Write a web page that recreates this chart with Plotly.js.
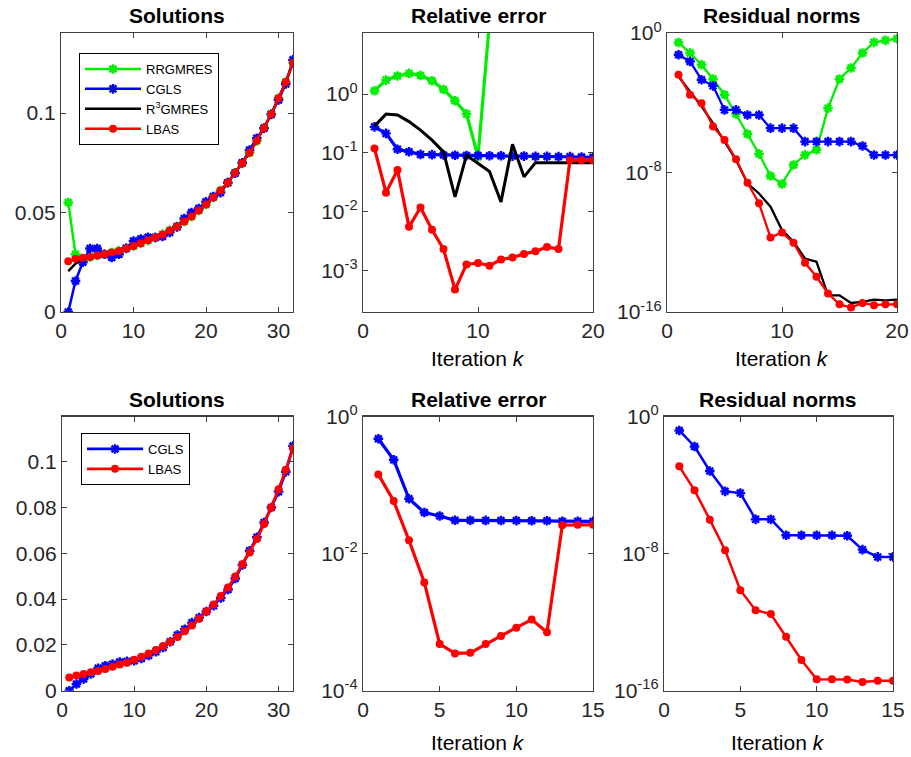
<!DOCTYPE html>
<html>
<head>
<meta charset="utf-8">
<script src="https://cdn.plot.ly/plotly-3.0.1.min.js"></script>
<style>html,body{margin:0;padding:0;background:#fff;}#chart{width:911px;height:757px;}</style>
</head>
<body>
<div id="chart"></div>
<script>
// ---------- data ----------
const k32 = [1,2,3,4,5,6,7,8,9,10,11,12,13,14,15,16,17,18,19,20,21,22,23,24,25,26,27,28,29,30,31,32];
const k20 = [1,2,3,4,5,6,7,8,9,10,11,12,13,14,15,16,17,18,19,20];
const k15 = [1,2,3,4,5,6,7,8,9,10,11,12,13,14,15];
const k11 = [1,2,3,4,5,6,7,8,9,10,11];

// Top row: Solutions
const solRRGMRES1 = [0.0550,0.0290,0.0252,0.0277,0.0284,0.0290,0.0299,0.0307,0.0319,0.0332,0.0346,0.0360,0.0374,0.0390,0.0410,0.0430,0.0455,0.0480,0.0510,0.0540,0.0576,0.0610,0.0650,0.0700,0.0747,0.0800,0.0860,0.0925,0.0995,0.1074,0.1156,0.1253];
const solCGLS1 = [0,0.0156,0.0250,0.0319,0.0319,0.0290,0.0274,0.0290,0.0320,0.0357,0.0367,0.0376,0.0374,0.0380,0.0400,0.0428,0.0470,0.0500,0.0520,0.0554,0.0580,0.0600,0.0650,0.0697,0.0750,0.0814,0.0873,0.0923,0.0993,0.1065,0.1146,0.1267];
const solR3GMRES1 = [0.0206,0.0243,0.0265,0.0277,0.0284,0.0290,0.0299,0.0307,0.0319,0.0332,0.0346,0.0360,0.0374,0.0390,0.0410,0.0430,0.0455,0.0480,0.0510,0.0540,0.0576,0.0610,0.0650,0.0700,0.0747,0.0800,0.0860,0.0925,0.0995,0.1074,0.1156,0.1253];
const solLBAS1 = [0.0255,0.0267,0.0272,0.0277,0.0284,0.0290,0.0299,0.0307,0.0319,0.0332,0.0346,0.0360,0.0374,0.0390,0.0410,0.0430,0.0455,0.0480,0.0510,0.0540,0.0576,0.0610,0.0650,0.0700,0.0747,0.0800,0.0860,0.0925,0.0995,0.1074,0.1156,0.1253];

// Top row: Relative error
const errRRGMRES1 = [1.14,1.73,2.03,2.25,2.08,1.69,1.20,0.77,0.46,0.086,17];
const errCGLS1 = [0.277,0.214,0.115,0.104,0.094,0.093,0.092,0.091,0.090,0.090,0.089,0.089,0.088,0.088,0.087,0.087,0.086,0.086,0.085,0.084];
const errR3GMRES1 = [0.285,0.456,0.44,0.34,0.244,0.164,0.104,0.0178,0.091,0.066,0.048,0.0146,0.14,0.039,0.068,0.068,0.068,0.068,0.068,0.068];
const errLBAS1 = [0.119,0.021,0.051,0.0055,0.0117,0.0049,0.0023,0.00047,0.00126,0.00133,0.0012,0.00152,0.00165,0.0019,0.0021,0.0025,0.0023,0.075,0.075,0.075];

// Top row: Residual norms
const resRRGMRES1 = [0.288,0.0708,0.0151,2.29e-3,2.88e-4,2.29e-5,1.62e-6,1.17e-7,6.3e-9,2.2e-9,2.7e-8,1.02e-7,2.0e-7,4.9e-5,2.3e-3,9.8e-3,0.071,0.29,0.38,0.47];
const resCGLS1 = [0.057,0.0234,2.1e-3,9.3e-4,3.9e-5,3.9e-5,2.0e-5,2.0e-5,3.5e-6,3.5e-6,3.5e-6,5.9e-7,5.9e-7,5.9e-7,5.9e-7,5.9e-7,3.3e-7,1.0e-7,1.0e-7,1.0e-7];
const resR3GMRES1 = [3.2e-3,4.5e-4,6.2e-5,6.8e-6,5.9e-7,5.2e-8,2.4e-9,6.3e-10,1.1e-10,5.0e-12,1.07e-12,1.17e-13,7.6e-14,9.1e-16,9.1e-16,3.3e-16,3.8e-16,5.1e-16,4.7e-16,5.1e-16];
const resLBAS1 = [4.1e-3,2.9e-4,9.5e-5,4.4e-6,7.4e-7,5.8e-8,2.6e-9,1.7e-10,1.9e-12,3.6e-12,9.3e-13,6.6e-14,1.05e-14,1.15e-15,2.75e-16,1.8e-16,3.3e-16,2.45e-16,2.75e-16,2.75e-16];

// Bottom row: Solutions
const solCGLS2 = [0,0.0029,0.0051,0.0073,0.0098,0.0109,0.0116,0.0125,0.0128,0.0131,0.0141,0.0154,0.0170,0.0189,0.0214,0.0243,0.0268,0.0297,0.0319,0.0346,0.0371,0.0405,0.0442,0.0490,0.0549,0.0611,0.0670,0.0734,0.0800,0.0869,0.0956,0.1068];
const solLBAS2 = [0.0058,0.0066,0.0073,0.0080,0.0086,0.0095,0.0105,0.0114,0.0122,0.0135,0.0148,0.0162,0.0178,0.0195,0.0214,0.0234,0.0259,0.0285,0.0314,0.0346,0.0376,0.0413,0.0451,0.0498,0.0552,0.0603,0.0662,0.0728,0.0800,0.0879,0.0964,0.1058];

// Bottom row: Relative error
const errCGLS2 = [0.473,0.234,0.063,0.0397,0.0354,0.0306,0.0306,0.0305,0.0304,0.0303,0.0302,0.0301,0.0297,0.0296,0.0295];
const errLBAS2 = [0.143,0.0585,0.0156,0.0038,4.8e-4,3.5e-4,3.57e-4,4.8e-4,6.3e-4,8.3e-4,1.09e-3,7.1e-4,0.0259,0.0263,0.0263];

// Bottom row: Residual norms
const resCGLS2 = [0.153,0.0178,6.6e-4,4.3e-5,3.4e-5,1.0e-6,1.0e-6,1.17e-7,1.17e-7,1.17e-7,1.17e-7,1.1e-7,1.7e-8,6.4e-9,6.4e-9];
const resLBAS2 = [1.23e-3,4.9e-5,9.6e-7,1.56e-8,7.3e-11,5.0e-12,2.95e-12,1.4e-13,6.2e-15,4.6e-16,4.6e-16,4.5e-16,3.2e-16,3.8e-16,3.8e-16];

// tick labels
const xt32 = [0,10,20,30];
const xt20 = [0,10,20];
const xt15 = [0,5,10,15];
const ySolTop = [0,0.05,0.1];
const ySolTopText = ['0','0.05','0.1'];
const ySolBot = [0,0.02,0.04,0.06,0.08,0.1];
const ySolBotText = ['0','0.02','0.04','0.06','0.08','0.1'];
const yErrTop = [1,0.1,0.01,0.001];
const yErrTopText = ['10<sup>0</sup>','10<sup>-1</sup>','10<sup>-2</sup>','10<sup>-3</sup>'];
const yRes = [1,1e-8,1e-16];
const yResText = ['10<sup>0</sup>','10<sup>-8</sup>','10<sup>-16</sup>'];
const yErrBot = [1,0.01,0.0001];
const yErrBotText = ['10<sup>0</sup>','10<sup>-2</sup>','10<sup>-4</sup>'];

// ---------- styling ----------
const FONT = 'Liberation Sans, Arial, Helvetica, sans-serif';
const GREEN = '#00ee00', BLUE = '#0000ff', BLACK = '#000000', RED = '#ff0000';
const W = 911, H = 757;
const dx = (a,b) => [a/W, b/W];
const dy = (t,b) => [1-b/H, 1-t/H];

function star(x,y,color,name,xa,ya,lw,extra){
  return Object.assign({x:x,y:y,name:name,xaxis:xa,yaxis:ya,mode:'lines+markers',
    line:{color:color,width:lw},
    marker:{symbol:'asterisk-open',size:8,color:color,line:{color:color,width:2.4}}},extra||{});
}
function dot(x,y,color,name,xa,ya,lw,extra){
  return Object.assign({x:x,y:y,name:name,xaxis:xa,yaxis:ya,mode:'lines+markers',
    line:{color:color,width:lw},
    marker:{symbol:'circle',size:8,color:color}},extra||{});
}
function plain(x,y,color,name,xa,ya,lw,extra){
  return Object.assign({x:x,y:y,name:name,xaxis:xa,yaxis:ya,mode:'lines',
    line:{color:color,width:lw}},extra||{});
}
const noLeg = {showlegend:false};

const traces = [
  // top-left
  star(k32,solRRGMRES1,GREEN,'RRGMRES','x','y',2.5,{legend:'legend'}),
  star(k32,solCGLS1,BLUE,'CGLS','x','y',2.5,{legend:'legend'}),
  plain(k32,solR3GMRES1,BLACK,'R<sup>3</sup>GMRES','x','y',2.5,{legend:'legend'}),
  dot(k32,solLBAS1,RED,'LBAS','x','y',2.5,{legend:'legend'}),
  // top-middle
  star(k11,errRRGMRES1,GREEN,'RRGMRES','x2','y2',3.2,noLeg),
  star(k20,errCGLS1,BLUE,'CGLS','x2','y2',3.2,noLeg),
  plain(k20,errR3GMRES1,BLACK,'R3GMRES','x2','y2',3,noLeg),
  dot(k20,errLBAS1,RED,'LBAS','x2','y2',3.2,noLeg),
  // top-right
  star(k20,resRRGMRES1,GREEN,'RRGMRES','x3','y3',2.3,noLeg),
  star(k20,resCGLS1,BLUE,'CGLS','x3','y3',2.3,noLeg),
  plain(k20,resR3GMRES1,BLACK,'R3GMRES','x3','y3',2.3,noLeg),
  dot(k20,resLBAS1,RED,'LBAS','x3','y3',2.3,noLeg),
  // bottom-left
  star(k32,solCGLS2,BLUE,'CGLS','x4','y4',2.8,{legend:'legend2'}),
  dot(k32,solLBAS2,RED,'LBAS','x4','y4',2.8,{legend:'legend2'}),
  // bottom-middle
  star(k15,errCGLS2,BLUE,'CGLS','x5','y5',3.2,noLeg),
  dot(k15,errLBAS2,RED,'LBAS','x5','y5',3.2,noLeg),
  // bottom-right
  star(k15,resCGLS2,BLUE,'CGLS','x6','y6',2.5,noLeg),
  dot(k15,resLBAS2,RED,'LBAS','x6','y6',2.5,noLeg)
];

const AX = {
  showline:true, linecolor:'#404040', linewidth:1.2, mirror:'allticks',
  ticks:'inside', ticklen:5, tickwidth:1, tickcolor:'#404040',
  showgrid:false, zeroline:false, fixedrange:true,
  tickfont:{family:FONT,size:21,color:'#262626'}
};
function xa(dom, anchor, range, vals){
  return Object.assign({}, AX, {domain:dom, anchor:anchor, range:range, tickmode:'array', tickvals:vals, ticktext:vals.map(String)});
}
function ylin(dom, anchor, range, vals, text){
  return Object.assign({}, AX, {domain:dom, anchor:anchor, range:range, tickmode:'array', tickvals:vals, ticktext:text});
}
function ylog(dom, anchor, range, vals, text){
  return Object.assign({}, AX, {domain:dom, anchor:anchor, type:'log', range:range, tickmode:'array', tickvals:vals, ticktext:text});
}

const topY = dy(33,312), botY = dy(416.5,690.7);
const c1 = dx(61,293), c2 = dx(363,593), c3 = dx(667,897);
const b1 = dx(62,293), b2 = dx(363,593), b3 = dx(664,893);

function ann(text, xc, yc, size, bold){
  return {text: bold ? '<b>'+text+'</b>' : text, xref:'paper', yref:'paper', x:xc/W, y:1-yc/H,
    xanchor:'center', yanchor:'middle', showarrow:false, font:{family:FONT,size:size,color:'#000'}};
}

const layout = {
  width:W, height:H, margin:{l:0,r:0,t:0,b:0},
  paper_bgcolor:'#fff', plot_bgcolor:'#fff',
  font:{family:FONT},
  xaxis: xa(c1,'y',[0,32],xt32),
  yaxis: ylin(topY,'x',[0,0.1402],ySolTop,ySolTopText),
  xaxis2: xa(c2,'y2',[0,20],xt20),
  yaxis2: ylog(topY,'x2',[-3.71,1.04],yErrTop,yErrTopText),
  xaxis3: xa(c3,'y3',[0,20],xt20),
  yaxis3: ylog(topY,'x3',[-16,0],yRes,yResText),
  xaxis4: xa(b1,'y4',[0,32],xt32),
  yaxis4: ylin(botY,'x4',[0,0.1197],ySolBot,ySolBotText),
  xaxis5: xa(b2,'y5',[0,15],xt15),
  yaxis5: ylog(botY,'x5',[-4,0],yErrBot,yErrBotText),
  xaxis6: xa(b3,'y6',[0,15],xt15),
  yaxis6: ylog(botY,'x6',[-16,0],yRes,yResText),
  legend: {x:79/W, y:1-53/H, xanchor:'left', yanchor:'top', bgcolor:'#fff', bordercolor:'#000', borderwidth:1,
    font:{family:FONT,size:13,color:'#000'}, itemwidth:56, tracegroupgap:0},
  legend2: {x:81/W, y:1-433/H, xanchor:'left', yanchor:'top', bgcolor:'#fff', bordercolor:'#000', borderwidth:1,
    font:{family:FONT,size:13,color:'#000'}, itemwidth:56, tracegroupgap:0},
  annotations: [
    ann('Solutions', 177, 15, 21, true),
    ann('Relative error', 478, 15, 21, true),
    ann('Residual norms', 782, 15, 21, true),
    ann('Solutions', 177, 399, 21, true),
    ann('Relative error', 478, 399, 21, true),
    ann('Residual norms', 778, 399, 21, true),
    ann('Iteration <i>k</i>', 478, 358, 21, false),
    ann('Iteration <i>k</i>', 782, 358, 21, false),
    ann('Iteration <i>k</i>', 478, 742, 21, false),
    ann('Iteration <i>k</i>', 778, 742, 21, false)
  ]
};

Plotly.newPlot('chart', traces, layout, {displayModeBar:false, staticPlot:true});
</script>
</body>
</html>
